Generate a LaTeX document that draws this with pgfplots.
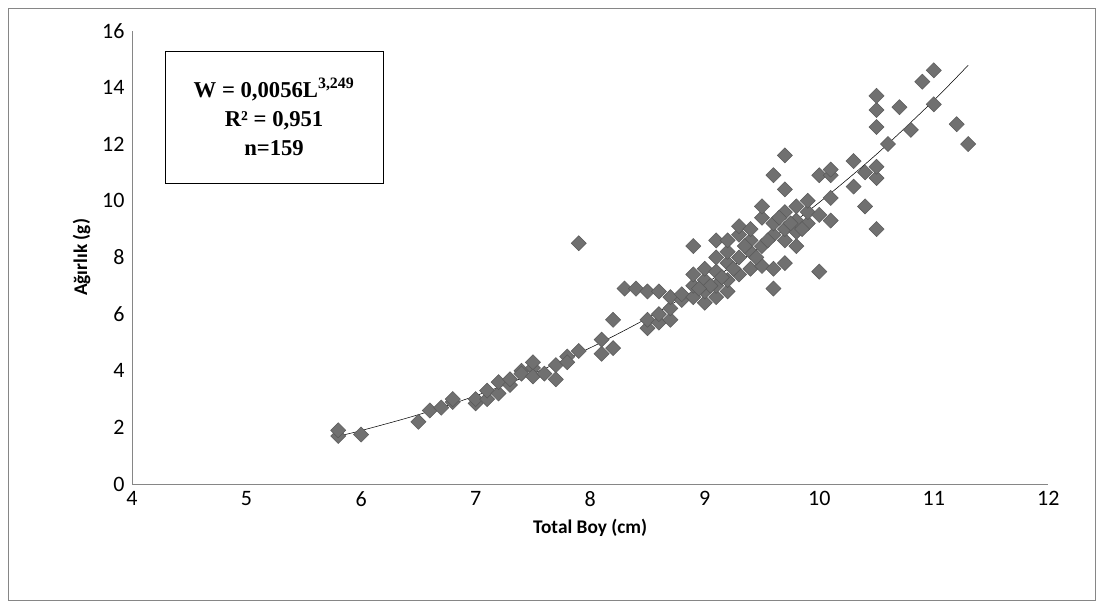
\documentclass[border=0pt]{standalone}
\usepackage{pgfplots}
\pgfplotsset{compat=1.18}
\usepackage{fontspec}
\setmainfont{Carlito}
\newfontfamily\tnr{Liberation Serif}
\definecolor{pt}{RGB}{112,112,112}
\definecolor{ax}{RGB}{134,134,134}
\begin{document}
\begin{tikzpicture}
\begin{axis}[name=ax, scale only axis, width=687pt, height=340pt,
 xmin=4, xmax=12, ymin=0, ymax=16, xtick={4,...,12}, ytick={0,2,...,16},
 axis lines=left, axis line style={ax, -}, major tick style={draw=none},
 ticklabel style={font=\fontsize{16.5}{18}\selectfont},
 /pgf/number format/assume math mode=true,
 xlabel={\textbf{Total Boy (cm)}}, ylabel={\textbf{Ağırlık (g)}},
 label style={font=\fontsize{14.5}{16}\selectfont},
 xlabel style={yshift=-2pt}, ylabel style={yshift=2pt},
 clip=false]
\addplot[only marks, mark=square*, mark size=4pt, mark options={fill=pt, draw=pt!80!black, rotate=45}] coordinates {
(5.8,1.7)(5.8,1.9)(6.0,1.75)(6.5,2.2)(6.6,2.6)(6.7,2.7)(6.8,2.9)(6.8,3.0)(7.0,2.85)(7.0,3.0)
(7.1,3.0)(7.1,3.3)(7.2,3.2)(7.2,3.6)(7.3,3.5)(7.3,3.7)(7.4,4.0)(7.4,3.9)(7.5,4.1)(7.5,4.3)
(7.5,3.8)(7.6,3.9)(7.7,3.7)(7.7,4.2)(7.8,4.5)(7.8,4.3)(7.9,4.7)(7.9,8.5)(8.1,4.6)(8.1,5.1)
(8.2,4.8)(8.2,5.8)(8.3,6.9)(8.4,6.9)(8.5,5.5)(8.5,5.8)(8.5,6.8)(8.6,5.7)(8.6,6.0)(8.6,6.8)
(8.7,5.8)(8.7,6.2)(8.7,6.6)(8.8,6.5)(8.8,6.7)(8.9,6.6)(8.9,7.0)(8.9,7.4)(8.9,8.4)(9.0,6.4)
(9.0,6.8)(9.0,7.2)(9.0,7.6)(9.1,6.6)(9.1,7.0)(9.1,7.5)(9.1,8.0)(9.1,8.6)(9.2,6.8)(9.2,7.2)
(9.2,7.8)(9.2,8.2)(9.2,8.6)(9.3,7.4)(9.3,8.0)(9.3,8.8)(9.3,9.1)(9.4,7.6)(9.4,8.2)(9.4,8.6)
(9.4,9.0)(9.5,7.7)(9.5,8.4)(9.5,9.4)(9.5,9.8)(9.6,6.9)(9.6,7.6)(9.6,8.8)(9.6,9.2)(9.6,10.9)
(9.7,7.8)(9.7,8.6)(9.7,9.0)(9.7,9.6)(9.7,10.4)(9.7,11.6)(9.8,8.4)(9.8,8.9)(9.8,9.3)(9.8,9.8)
(9.9,9.2)(9.9,9.6)(9.9,10.0)(10.0,7.5)(10.0,9.5)(10.0,10.9)(10.1,9.3)(10.1,10.1)(10.1,10.9)(10.1,11.1)
(10.3,10.5)(10.3,11.4)(10.4,9.8)(10.4,11.0)(10.5,9.0)(10.5,10.8)(10.5,11.2)(10.5,12.6)(10.5,13.2)(10.5,13.7)
(10.6,12.0)(10.7,13.3)(10.8,12.5)(10.9,14.2)(11.0,14.6)(11.0,13.4)(11.2,12.7)(11.3,12.0)
(9.05,7.0)(9.15,7.3)(9.25,7.6)(9.35,8.4)(9.45,8.0)(9.55,8.6)(9.65,9.4)(9.75,9.2)(9.85,9.0)(8.95,6.9)
};
\addplot[black, thin, smooth] coordinates {
(5.8,1.694)(6.0,1.89)(6.5,2.45)(7.0,3.118)(7.5,3.90)(8.0,4.81)(8.5,5.86)(9.0,7.06)(9.5,8.41)(10.0,9.94)(10.5,11.64)(11.0,13.54)(11.3,14.78)};
\draw[black] (axis cs:4.29,15.28) rectangle (axis cs:6.19,10.63);
\node[align=center, font=\tnr\fontsize{17}{22}\selectfont\bfseries] at (axis cs:5.24,12.95)
 {W = 0,0056L\textsuperscript{3,249}\\R² = 0,951\\n=159};
\end{axis}
\draw[ax] ([shift={(-93pt,-87pt)}]ax.south west) rectangle ([shift={(722pt,357pt)}]ax.south west);
\path ([shift={(-99pt,-93pt)}]ax.south west) rectangle ([shift={(728pt,363pt)}]ax.south west);
\end{tikzpicture}
\end{document}
